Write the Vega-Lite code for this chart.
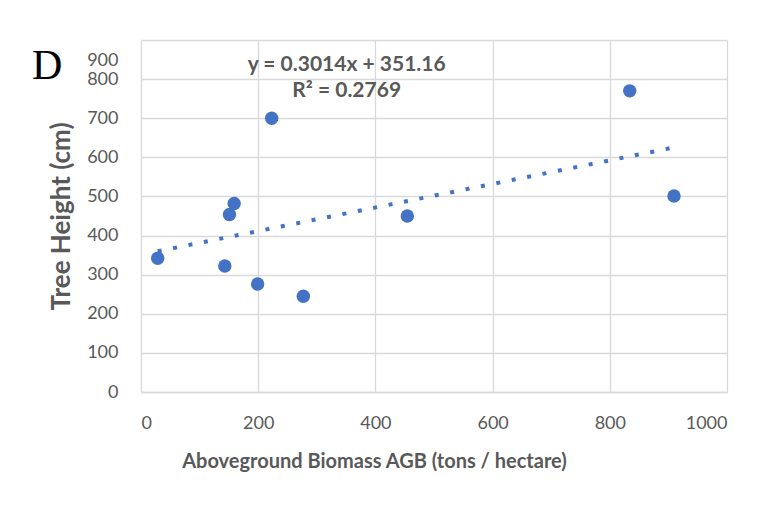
{
  "$schema": "https://vega.github.io/schema/vega-lite/v6.json",
  "width": 586,
  "height": 352,
  "autosize": "none",
  "padding": {"left": 141, "top": 40, "right": 41, "bottom": 113},
  "background": "white",
  "title": {
    "text": "D",
    "anchor": "start",
    "frame": "group",
    "font": "Liberation Serif",
    "fontSize": 42,
    "fontWeight": "normal",
    "color": "black",
    "baseline": "alphabetic",
    "offset": 0,
    "dx": -109,
    "dy": 81
  },
  "datasets": {
    "points": [
      {"agb": 28.5, "height": 342},
      {"agb": 143, "height": 322},
      {"agb": 151, "height": 454},
      {"agb": 159, "height": 482},
      {"agb": 199, "height": 276},
      {"agb": 223, "height": 700},
      {"agb": 277, "height": 245},
      {"agb": 454.5, "height": 450},
      {"agb": 834, "height": 770},
      {"agb": 909.6, "height": 501}
    ],
    "trend": [
      {"agb": 28.5, "height": 359.75},
      {"agb": 909.6, "height": 625.32}
    ]
  },
  "config": {
    "view": {"stroke": null},
    "font": "Lato",
    "axis": {
      "grid": true,
      "gridColor": "#d9d9d9",
      "gridWidth": 1.3,
      "domainColor": "#d9d9d9",
      "domainWidth": 1.3,
      "ticks": false,
      "labelFont": "Lato",
      "labelFontSize": 18,
      "labelColor": "#595959",
      "labelOverlap": false,
      "titleFont": "Lato",
      "titleFontSize": 20,
      "titleFontWeight": "bold",
      "titleColor": "#595959"
    }
  },
  "layer": [
    {
      "data": {"name": "trend"},
      "mark": {"type": "line", "color": "#4472C4", "strokeWidth": 4, "strokeDash": [4, 11.7], "strokeCap": "butt"},
      "encoding": {
        "x": {
          "field": "agb",
          "type": "quantitative",
          "scale": {"domain": [0, 1000], "nice": false},
          "axis": {
            "values": [0, 200, 400, 600, 800, 1000],
            "format": "d",
            "title": "Aboveground Biomass AGB (tons / hectare)",
            "labelPadding": 22,
            "titlePadding": 19,
            "titleX": 233,
            "titleAlign": "center",
            "labelOverlap": false
          }
        },
        "y": {
          "field": "height",
          "type": "quantitative",
          "scale": {"domain": [0, 900], "nice": false},
          "axis": {
            "values": [0, 100, 200, 300, 400, 500, 600, 700, 800, 900],
            "tickCount": 10,
            "title": "Tree Height (cm)",
            "titleFontSize": 26,
            "labelPadding": 23,
            "titlePadding": 12,
            "labelOverlap": false,
            "labelOffset": {"condition": {"test": "datum.value === 900", "value": 20}, "value": 0},
            "domain": false
          }
        }
      }
    },
    {
      "data": {"name": "points"},
      "mark": {"type": "point", "filled": true, "opacity": 1, "color": "#4472C4", "size": 180},
      "encoding": {
        "x": {"field": "agb", "type": "quantitative"},
        "y": {"field": "height", "type": "quantitative"}
      }
    },
    {
      "data": {"values": [{}]},
      "mark": {"type": "text", "font": "Lato", "fontWeight": "bold", "fontSize": 21, "color": "#595959", "align": "center", "baseline": "middle"},
      "encoding": {
        "x": {"datum": 351},
        "y": {"datum": 837},
        "text": {"value": "y = 0.3014x + 351.16"}
      }
    },
    {
      "data": {"values": [{}]},
      "mark": {"type": "text", "font": "Lato", "fontWeight": "bold", "fontSize": 21, "color": "#595959", "align": "center", "baseline": "middle"},
      "encoding": {
        "x": {"datum": 351},
        "y": {"datum": 770},
        "text": {"value": "R² = 0.2769"}
      }
    }
  ]
}
